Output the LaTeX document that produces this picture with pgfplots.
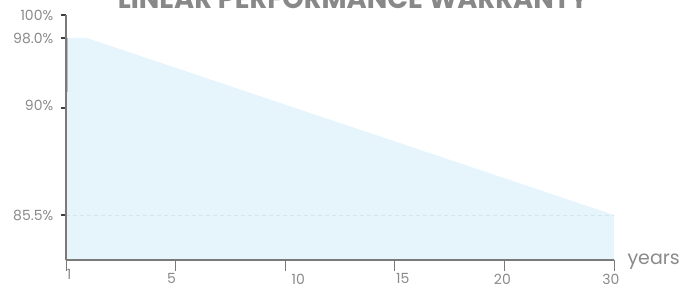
\documentclass[border=0pt]{standalone}
\usepackage{fontspec}
\setmainfont{Poppins}
\usepackage{pgfplots}
\pgfplotsset{compat=1.18}
\definecolor{fillblue}{HTML}{E6F4FC}
\definecolor{axgrey}{HTML}{7A7A7A}
\definecolor{txtgrey}{HTML}{8A8A8A}
\definecolor{titlegrey}{HTML}{888888}
\definecolor{dashc}{HTML}{D2E6EE}
\definecolor{edgeblue}{HTML}{86CDE6}
\begin{document}
\begin{tikzpicture}
\begin{axis}[
  at={(66pt,27pt)}, anchor=south west,
  scale only axis, width=548pt, height=245pt,
  xmin=0, xmax=5, ymin=81, ymax=100,
  y coord trafo/.code={\pgfmathparse{ifthenelse(#1<=85.5, 45-(85.5-#1)*10, ifthenelse(#1<=90, 45+(#1-85.5)*23.7778, ifthenelse(#1<=98, 152+(#1-90)*8.75, 222+(#1-98)*11.5)))}},
  axis x line=bottom, axis y line=left,
  axis line style={axgrey, line width=1.3pt, -},
  xtick={1,2,3,4,5},
  xticklabels={{5\hspace*{8pt}},{\hspace*{26pt}10},{\hspace*{16pt}15},{20\hspace*{4pt}},{30\hspace*{6pt}}},
  extra x ticks={0}, extra x tick labels={{\hspace*{6pt}1}},
  extra x tick style={/pgfplots/major tick length=0pt},
  ytick={85.5,90,98,100}, yticklabels={85.5\%,{\raisebox{5pt}{90\%}},98.0\%,100\%},
  tick align=outside,
  xtick style={/pgfplots/major tick length=11pt, axgrey, line width=1pt},
  ytick style={/pgfplots/major tick length=5pt, black!75, line width=1.2pt},
  ticklabel style={font=\fontsize{14}{14}\selectfont, text=txtgrey},
  xticklabel style={yshift=-6pt},
  yticklabel style={xshift=-5pt},
  axis on top, clip=false,
]
\addplot[fill=fillblue, draw=none] coordinates {(0,81) (0,98) (0.19,98) (5,85.5) (5,81)} -- cycle;
\addplot[draw=dashc, dash pattern=on 4pt off 3pt, line width=0.8pt] coordinates {(0,85.5) (5,85.5)};
\addplot[draw=edgeblue, line width=1pt] coordinates {(0.012,98) (0.012,91.8)};
\end{axis}
\node[anchor=west, font=\fontsize{19}{19}\selectfont, text=txtgrey] at (624pt,25pt) {years};
\node[anchor=base, font=\bfseries\fontsize{27.3}{27.3}\selectfont, text=titlegrey] at (353pt,278pt) {LINEAR PERFORMANCE WARRANTY};
\pgfresetboundingbox
\useasboundingbox (0,0) rectangle (698pt,287pt);
\end{tikzpicture}
\end{document}
